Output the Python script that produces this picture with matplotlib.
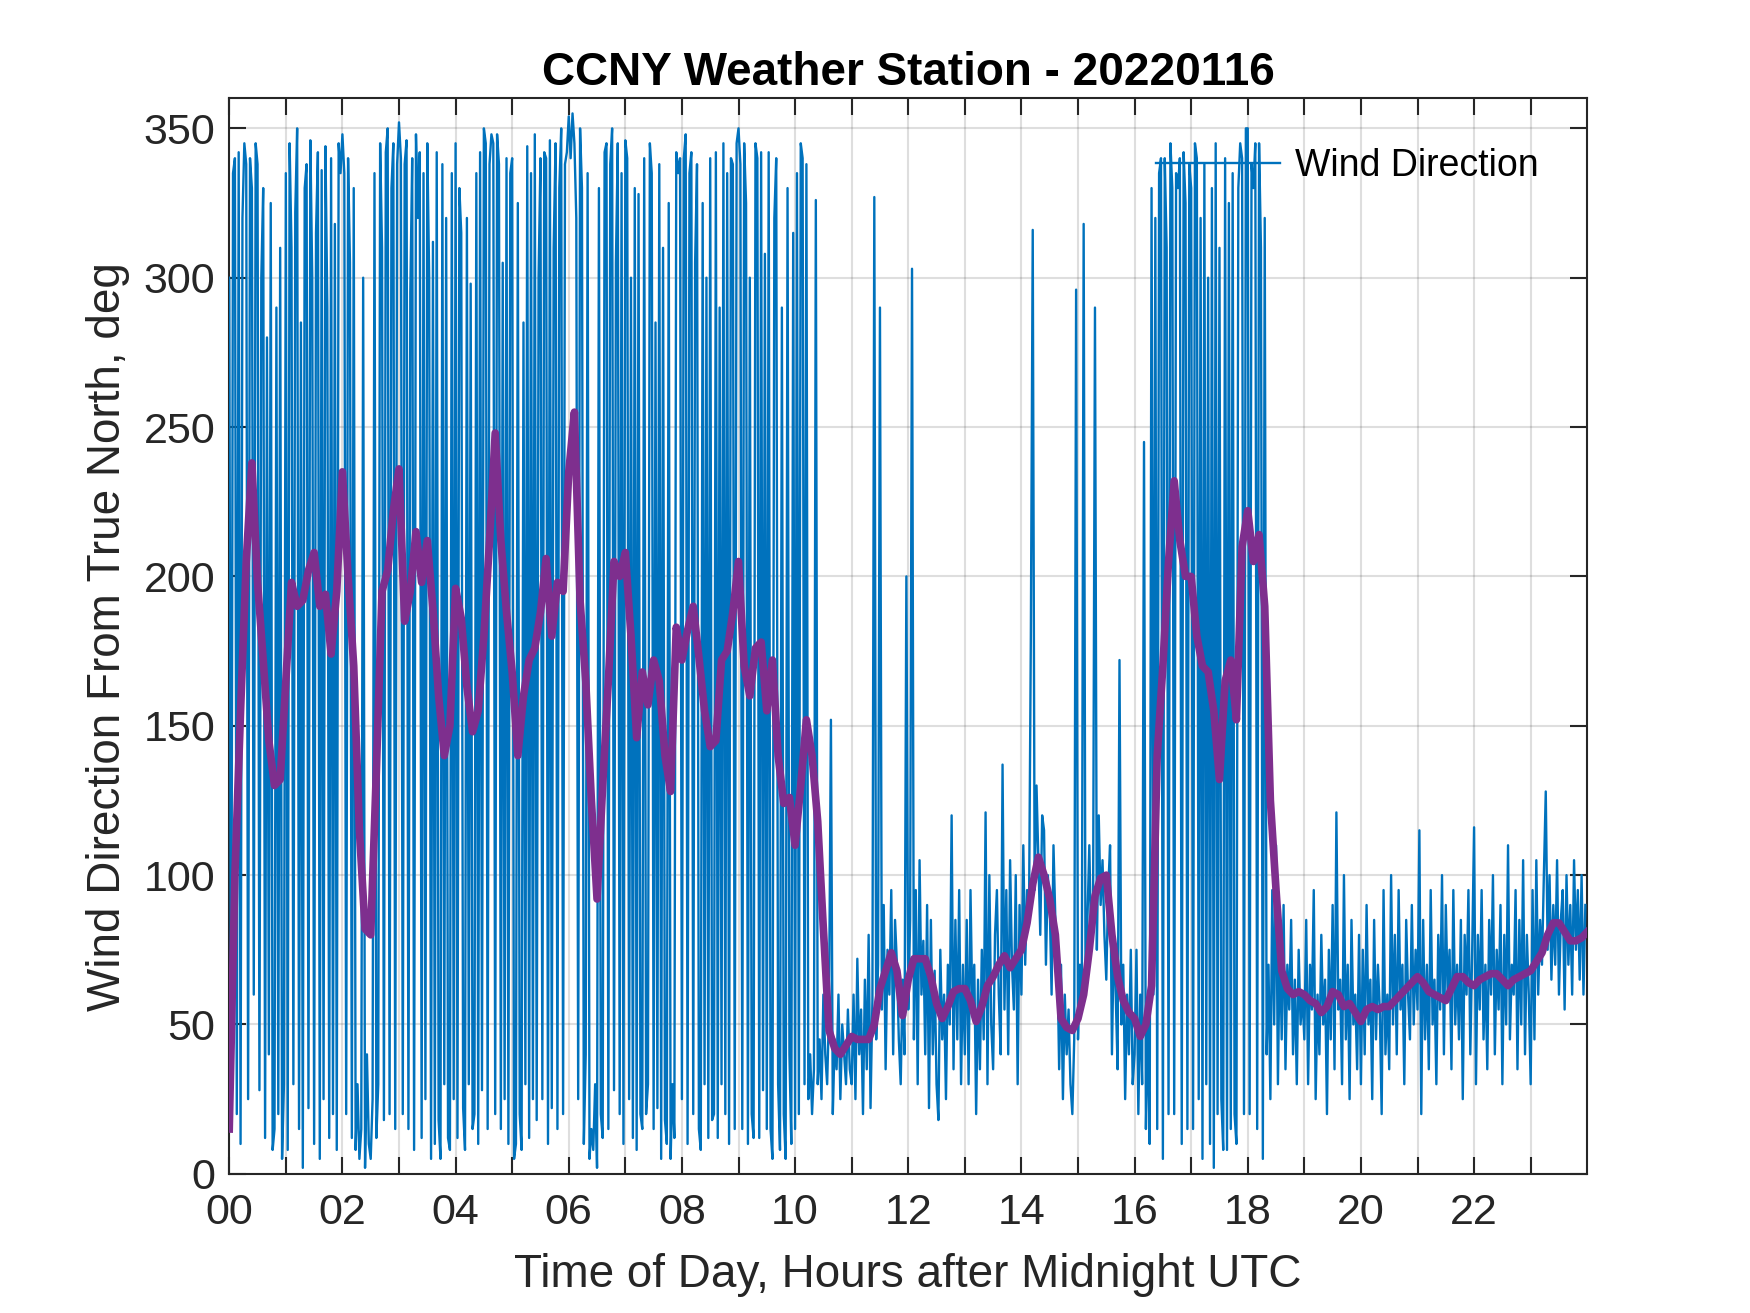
import numpy as np
import matplotlib
matplotlib.use("Agg")
import matplotlib.pyplot as plt

# ---------------- data ----------------
# Wind direction samples (deg), every 2 minutes, one list per hour of day (UTC)
wd_h00 = [300, 15, 335, 340, 20, 342, 10, 320, 345, 338, 25, 340, 330, 60, 345, 338, 28, 300, 330, 12, 280, 40, 325, 8, 15, 290, 20, 310, 5, 30]
wd_h01 = [335, 8, 345, 310, 30, 322, 350, 15, 285, 2, 330, 338, 22, 346, 300, 10, 315, 342, 5, 336, 25, 344, 290, 12, 340, 20, 318, 8, 345, 335]
wd_h02 = [348, 335, 20, 340, 305, 12, 330, 8, 30, 5, 15, 300, 2, 40, 10, 5, 25, 335, 12, 30, 345, 310, 18, 342, 350, 20, 330, 345, 15, 338]
wd_h03 = [352, 340, 20, 338, 346, 15, 295, 340, 8, 348, 320, 342, 12, 335, 25, 345, 300, 5, 312, 10, 342, 18, 5, 338, 30, 320, 12, 8, 335, 25]
wd_h04 = [345, 12, 330, 315, 22, 8, 320, 30, 298, 15, 20, 335, 10, 342, 28, 350, 345, 15, 338, 348, 345, 20, 348, 338, 15, 305, 25, 340, 10, 335]
wd_h05 = [340, 5, 10, 325, 20, 8, 285, 30, 344, 12, 335, 25, 348, 18, 300, 340, 25, 342, 340, 10, 346, 22, 310, 345, 15, 330, 350, 20, 338, 342]
wd_h06 = [354, 340, 355, 345, 320, 25, 350, 330, 10, 40, 335, 5, 15, 8, 30, 2, 330, 20, 12, 342, 345, 15, 338, 350, 28, 305, 345, 20, 335, 10]
wd_h07 = [346, 340, 25, 300, 12, 330, 8, 328, 20, 15, 340, 20, 30, 345, 335, 15, 285, 22, 338, 5, 310, 18, 10, 325, 5, 30, 12, 342, 335, 340]
wd_h08 = [25, 340, 348, 10, 335, 342, 20, 305, 338, 15, 8, 325, 30, 300, 12, 340, 18, 20, 342, 12, 290, 30, 345, 20, 335, 10, 340, 338, 15, 345]
wd_h09 = [350, 338, 15, 345, 325, 10, 300, 20, 12, 345, 340, 12, 342, 28, 308, 15, 342, 15, 5, 320, 340, 30, 8, 290, 20, 5, 330, 40, 10, 315]
wd_h10 = [15, 335, 20, 345, 340, 30, 338, 25, 40, 20, 35, 326, 30, 45, 25, 60, 40, 30, 55, 152, 20, 45, 35, 60, 25, 50, 40, 30, 55, 35]
wd_h11 = [30, 60, 25, 72, 40, 55, 20, 65, 35, 80, 22, 58, 327, 45, 70, 290, 55, 90, 35, 75, 60, 95, 40, 85, 70, 45, 30, 65, 40, 200]
wd_h12 = [55, 85, 303, 45, 95, 30, 105, 60, 78, 40, 90, 22, 85, 40, 68, 30, 18, 75, 45, 60, 25, 70, 50, 120, 35, 85, 45, 95, 30, 70]
wd_h13 = [40, 85, 30, 95, 55, 70, 20, 65, 35, 75, 45, 121, 30, 100, 50, 35, 80, 95, 60, 40, 137, 55, 95, 40, 105, 70, 55, 100, 30, 90]
wd_h14 = [60, 110, 70, 95, 85, 180, 316, 95, 130, 105, 80, 120, 115, 70, 100, 90, 60, 110, 85, 75, 35, 70, 25, 60, 40, 55, 30, 20, 45, 296]
wd_h15 = [45, 70, 55, 318, 60, 85, 110, 75, 90, 290, 75, 120, 90, 105, 80, 65, 95, 110, 40, 80, 60, 35, 172, 50, 70, 25, 60, 40, 75, 30]
wd_h16 = [40, 75, 20, 60, 30, 245, 15, 50, 10, 330, 60, 320, 15, 335, 340, 5, 340, 310, 20, 345, 330, 20, 335, 330, 340, 10, 342, 325, 15, 338]
wd_h17 = [330, 15, 345, 340, 25, 320, 5, 338, 30, 300, 10, 330, 2, 345, 20, 310, 25, 8, 340, 8, 325, 15, 335, 20, 10, 330, 345, 340, 20, 350]
wd_h18 = [350, 20, 338, 330, 345, 15, 345, 310, 5, 320, 40, 70, 25, 95, 50, 110, 30, 80, 45, 90, 35, 70, 55, 85, 40, 65, 30, 75, 50, 60]
wd_h19 = [45, 85, 30, 70, 55, 95, 25, 60, 40, 80, 50, 65, 20, 75, 45, 90, 35, 121, 55, 65, 30, 100, 45, 70, 25, 85, 50, 60, 35, 80]
wd_h20 = [30, 75, 40, 90, 50, 65, 25, 85, 45, 70, 55, 20, 95, 40, 60, 35, 100, 50, 80, 40, 95, 55, 70, 30, 85, 60, 45, 90, 50, 75]
wd_h21 = [55, 115, 20, 85, 45, 70, 35, 95, 50, 65, 30, 80, 55, 100, 40, 90, 60, 75, 35, 95, 50, 70, 45, 85, 25, 80, 60, 95, 40, 75]
wd_h22 = [116, 30, 80, 55, 95, 45, 70, 35, 85, 60, 100, 40, 75, 55, 90, 30, 80, 50, 110, 45, 70, 60, 95, 35, 85, 50, 105, 40, 80, 60]
wd_h23 = [30, 95, 45, 105, 60, 85, 70, 100, 128, 75, 100, 65, 90, 70, 105, 60, 85, 95, 55, 100, 70, 90, 60, 105, 75, 95, 65, 100, 60, 90]

wind_by_hour = [wd_h00, wd_h01, wd_h02, wd_h03, wd_h04, wd_h05, wd_h06, wd_h07,
                wd_h08, wd_h09, wd_h10, wd_h11, wd_h12, wd_h13, wd_h14, wd_h15,
                wd_h16, wd_h17, wd_h18, wd_h19, wd_h20, wd_h21, wd_h22, wd_h23]

# Smoothed wind direction (deg), every 6 minutes from 00:00 to 24:00
wind_smooth = [
    15, 100, 155, 205, 238, 198, 172, 145, 130, 132,
    165, 198, 190, 192, 202, 208, 190, 194, 174, 195,
    235, 200, 170, 115, 82, 80, 135, 195, 202, 222,
    236, 185, 195, 215, 198, 212, 189, 160, 140, 150,
    196, 186, 163, 148, 155, 180, 212, 248, 212, 188,
    168, 140, 160, 172, 176, 188, 206, 180, 198, 195,
    235, 255, 192, 165, 125, 92, 130, 165, 205, 200,
    208, 180, 146, 168, 157, 172, 165, 140, 128, 183,
    172, 182, 190, 173, 155, 143, 145, 172, 175, 188,
    205, 170, 160, 176, 178, 155, 172, 140, 124, 126,
    110, 130, 152, 140, 118, 82, 48, 42, 40, 43,
    46, 45, 45, 45, 50, 62, 68, 74, 68, 53,
    65, 72, 72, 72, 66, 57, 52, 56, 61, 62,
    62, 58, 51, 56, 63, 66, 70, 73, 69, 72,
    75, 84, 97, 106, 100, 92, 80, 52, 49, 48,
    52, 60, 75, 93, 99, 100, 80, 66, 58, 54,
    52, 46, 50, 63, 140, 170, 205, 232, 212, 200,
    200, 180, 170, 168, 155, 132, 165, 172, 152, 210,
    222, 205, 214, 190, 125, 95, 68, 62, 60, 61,
    60, 58, 57, 54, 56, 61, 60, 56, 57, 54,
    51, 55, 56, 55, 56, 56, 58, 60, 62, 64,
    66, 64, 61, 60, 59, 58, 62, 66, 66, 64,
    63, 65, 66, 67, 67, 65, 63, 65, 66, 67,
    68, 71, 74, 80, 84, 84, 81, 78, 78, 79,
    81,
]
smooth_step_h = 0.1

x_tick_hours = list(range(0, 24))
x_tick_labels = [f"{h:02d}" if h % 2 == 0 else "" for h in x_tick_hours]
y_ticks = [0, 50, 100, 150, 200, 250, 300, 350]

# ---------------- plot ----------------
plt.rcParams['font.family'] = ['Liberation Sans', 'DejaVu Sans']

blue = '#0072BD'
purple = '#7E2F8E'
dark = '#262626'

t_wind = np.concatenate([h + np.arange(len(v)) / len(v) for h, v in enumerate(wind_by_hour)])
wind_dir = np.concatenate([np.asarray(v, dtype=float) for v in wind_by_hour])
t_smooth = np.arange(len(wind_smooth)) * smooth_step_h

fig = plt.figure(figsize=(17.5, 13.13), dpi=100)
ax = fig.add_axes([0.131, 0.106, 0.776, 0.819])

ax.plot(t_wind, wind_dir, color=blue, lw=1.7, label='Wind Direction', zorder=3)
ax.plot(t_smooth, wind_smooth, color=purple, lw=5.5, zorder=4, solid_joinstyle='round')

ax.set_xlim(0, 24)
ax.set_ylim(0, 360)
ax.set_xticks(x_tick_hours)
ax.set_xticklabels(x_tick_labels)
ax.set_yticks(y_ticks)

ax.grid(True, color=(0.15, 0.15, 0.15), alpha=0.15, lw=1.5)
ax.set_axisbelow(True)

ax.tick_params(direction='in', length=12, width=1.5, colors=dark, labelsize=31,
               top=True, right=True)
ax.tick_params(axis='x', pad=14)
ax.tick_params(axis='y', pad=10)
for s in ax.spines.values():
    s.set_color(dark)
    s.set_linewidth(1.5)

ax.set_xlabel('Time of Day, Hours after Midnight UTC', fontsize=33, color=dark, labelpad=14)
ax.set_ylabel('Wind Direction From True North, deg', fontsize=33, color=dark, labelpad=10)
ax.set_title('CCNY Weather Station - 20220116', fontsize=33, fontweight='bold', color='black', pad=10)

leg = ax.legend(loc='center right', bbox_to_anchor=(0.975, 0.937), frameon=False,
                fontsize=27, handlelength=3.3, borderaxespad=0.0, handletextpad=0.4)

fig.savefig('out.png', dpi=100)
